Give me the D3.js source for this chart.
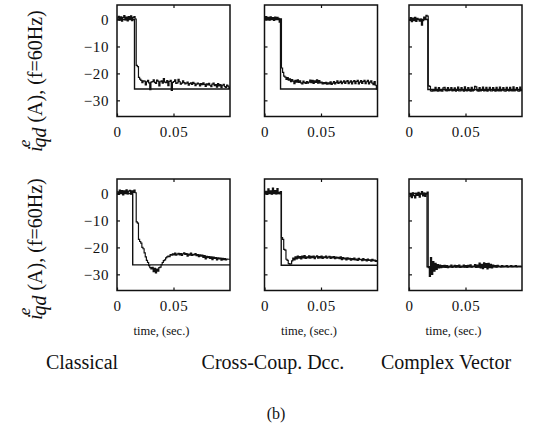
<!DOCTYPE html>
<html>
<head>
<meta charset="utf-8">
<script src="https://cdn.jsdelivr.net/npm/d3@7"></script>
<style>
  html, body { margin: 0; padding: 0; background: #fff; }
  svg { display: block; }
  svg text { font-family: "Liberation Serif", "Times New Roman", serif !important; }
</style>
</head>
<body>
<svg id="chart" width="553" height="427"></svg>
<script>
// Current step response of the three regulators (q-axis current, f = 60 Hz)
const columnTitles = ["Classical", "Cross-Coup. Dcc.", "Complex Vector"];
const yTickValues = [0, -10, -20, -30];
const xTickValues = [0, 0.05];
const yDomain = [-36, 5.4];
const xDomain = [0, 0.1];
const samplePeriod = 0.001; // s between logged samples

// Commanded current: steps from 0 A to the given level at the given time
const refStepTop = [0.0155, 0.0142, 0.0167];
const refLevelTop = [-25.8, -25.8, -26.0];
const refStepBottom = [0.0139, 0.0148, 0.016];
const refLevelBottom = [-26.5, -26.6, -27.2];

// Measured currents (A), one sample per samplePeriod
const classicalTop = [
  0.5, 1.2, -0.2, 1.0, -0.6, 0.8, 1.5, -0.1, 0.9, -0.5,
  1.1, 0.3, 1.4, -0.4, 0.8, 1.1, 0.2, -17.0, -17.5, -21.5,
  -22.1, -22.6, -23.4, -22.8, -22.9, -24.3, -23.1, -22.6, -23.5, -26.0,
  -23.2, -23.0, -22.4, -23.3, -23.7, -22.5, -22.9, -24.6, -23.1, -22.8,
  -23.6, -21.9, -23.2, -23.4, -22.7, -24.5, -23.0, -22.6, -26.3, -23.3,
  -23.0, -22.4, -23.7, -23.5, -22.2, -23.1, -24.0, -23.6, -22.8, -23.4,
  -23.9, -23.6, -23.2, -24.4, -23.8, -23.5, -24.1, -23.3, -23.7, -24.5,
  -24.0, -23.6, -23.9, -24.6, -23.8, -24.2, -23.5, -24.1, -24.8, -23.9,
  -24.3, -23.7, -24.4, -24.9, -24.0, -23.6, -24.5, -24.2, -25.1, -23.8,
  -24.6, -24.2, -25.3, -24.4, -24.1, -24.9, -25.2, -24.3, -24.7, -25.6,
  -25.0
];
const crossTop = [
  0.4, 1.1, 0.0, 0.8, -0.2, 1.0, 0.2, 0.7, -0.3, 0.9,
  0.1, 0.8, 0.4, -1.0, 0.3, -18.0, -19.6, -21.0, -21.4, -22.2,
  -21.6, -22.5, -22.0, -23.1, -22.3, -22.9, -23.8, -22.6, -23.2, -22.4,
  -23.3, -22.8, -23.5, -23.9, -22.9, -23.4, -23.7, -23.0, -23.6, -23.2,
  -22.5, -23.4, -22.6, -23.7, -22.8, -23.3, -22.4, -23.6, -22.7, -23.5,
  -23.2, -23.9, -23.4, -23.8, -23.3, -24.0, -23.5, -23.9, -23.1, -24.1,
  -23.6, -23.0, -23.9, -23.4, -22.8, -23.7, -23.3, -22.9, -23.8, -23.2,
  -22.8, -23.7, -23.1, -22.7, -23.8, -23.2, -22.8, -23.9, -23.1, -22.7,
  -23.8, -23.0, -22.6, -23.9, -23.2, -22.7, -23.7, -23.0, -22.6, -23.8,
  -23.1, -22.6, -23.9, -23.2, -22.8, -23.6, -24.2, -23.0, -24.4, -25.8,
  -25.8
];
const complexTop = [
  -0.3, 0.7, -0.8, 0.5, -0.4, 0.8, -0.7, 0.4, 0.1, -0.6,
  0.2, -2.1, -0.4, 0.9, 0.2, 1.6, 1.3, -24.6, -24.8, -26.5,
  -26.6, -26.3, -26.5, -25.2, -26.4, -26.6, -25.3, -26.5, -26.3, -26.6,
  -25.4, -25.2, -26.4, -26.5, -25.3, -26.4, -26.2, -25.3, -26.5, -26.3,
  -25.4, -26.6, -26.3, -25.1, -26.5, -26.5, -25.3, -26.2, -26.6, -25.0,
  -26.4, -26.5, -25.3, -26.3, -26.6, -25.2, -26.5, -26.2, -24.8, -25.0,
  -26.4, -26.6, -25.3, -26.5, -26.3, -25.1, -26.5, -26.4, -25.2, -26.6,
  -26.2, -25.2, -26.5, -26.5, -25.3, -26.3, -26.6, -25.2, -26.4, -26.5,
  -25.1, -26.5, -26.2, -25.3, -26.5, -26.6, -25.2, -26.3, -26.5, -25.2,
  -26.4, -26.5, -25.0, -26.5, -26.2, -25.3, -26.5, -26.6, -25.1, -26.4,
  -26.2
];
const classicalBottom = [
  0.6, -0.3, 1.3, 0.1, 1.1, -0.5, 1.0, 0.2, 1.4, -0.1,
  0.9, 1.2, -0.2, 1.0, 0.4, 1.3, 0.3, -10.5, -11.0, -17.0,
  -17.8, -18.4, -20.0, -20.5, -22.0, -23.5, -24.8, -25.6, -26.8, -27.5,
  -28.0, -27.4, -29.0, -27.8, -29.5, -28.1, -28.8, -27.5, -27.3, -26.4,
  -25.6, -24.9, -24.6, -23.9, -23.5, -23.2, -23.4, -22.7, -22.9, -22.4,
  -22.8, -22.1, -22.9, -22.5, -22.2, -22.8, -22.3, -23.0, -22.4, -22.0,
  -22.6, -22.3, -23.2, -22.5, -22.9, -22.1, -23.0, -22.6, -22.8, -22.3,
  -23.1, -22.7, -23.4, -22.8, -23.2, -22.9, -23.7, -23.0, -24.3, -23.3,
  -23.8, -23.4, -24.1, -23.5, -24.5, -23.6, -24.1, -23.8, -24.6, -23.9,
  -24.3, -24.0, -24.7, -24.1, -24.5, -24.2, -24.6, -24.3, -24.4, -24.4,
  -24.4
];
const crossBottom = [
  0.2, 0.8, -0.3, 1.7, 0.1, 1.0, -0.2, 2.0, 0.3, 1.1,
  -0.1, 1.8, 0.4, 0.0, 0.7, -16.4, -17.0, -20.7, -21.0, -24.4,
  -24.8, -26.0, -26.2, -26.1, -25.0, -24.0, -24.6, -23.5, -24.3, -23.2,
  -24.0, -23.4, -24.3, -23.2, -23.9, -23.0, -24.1, -23.5, -23.9, -23.1,
  -24.0, -23.3, -23.8, -23.2, -24.2, -23.5, -23.1, -24.0, -23.4, -23.9,
  -23.2, -24.1, -23.5, -23.8, -23.2, -24.0, -23.6, -23.3, -24.1, -23.5,
  -23.9, -23.4, -24.2, -23.6, -24.0, -23.7, -24.2, -23.5, -24.5, -23.8,
  -24.3, -24.0, -24.6, -23.9, -24.4, -24.1, -24.7, -24.2, -24.5, -24.0,
  -24.6, -24.3, -24.8, -24.1, -24.5, -24.4, -24.9, -24.2, -24.7, -24.5,
  -25.0, -24.3, -24.8, -24.6, -25.1, -24.4, -24.9, -24.7, -25.2, -24.9,
  -24.9
];
const complexBottom = [
  -1.0, 0.0, -1.5, 0.3, -0.8, -1.6, 0.1, -0.7, 0.4, -1.3,
  -0.2, 0.7, -0.9, 0.2, -1.1, -0.1, 0.5, -27.5, -30.8, -23.8,
  -30.0, -25.3, -28.8, -25.9, -28.2, -26.4, -27.6, -26.6, -27.5, -26.8,
  -27.3, -26.7, -27.4, -26.8, -27.5, -26.9, -27.2, -26.6, -27.4, -26.9,
  -26.7, -27.3, -26.8, -27.2, -26.6, -27.4, -26.9, -27.2, -26.6, -27.3,
  -26.8, -27.4, -26.7, -27.1, -26.5, -27.3, -26.9, -27.0, -26.4, -27.4,
  -26.6, -27.3, -25.8, -27.6, -26.3, -27.9, -25.7, -27.4, -26.0, -28.0,
  -25.9, -27.5, -26.3, -27.6, -26.6, -27.1, -26.8, -27.3, -26.7, -27.0,
  -26.9, -27.2, -26.8, -27.1, -26.9, -27.0, -26.8, -27.2, -26.9, -27.0,
  -26.8, -27.1, -26.9, -27.0, -26.8, -27.1, -26.9, -27.0, -26.9, -27.0,
  -26.9
];

const rows = [
  { series: [classicalTop, crossTop, complexTop], steps: refStepTop, levels: refLevelTop },
  { series: [classicalBottom, crossBottom, complexBottom], steps: refStepBottom, levels: refLevelBottom }
];

// Panel geometry
const panelLeft = [117, 264.5, 409];
const panelTop = [5, 179];
const panelW = 113, panelH = 111.5;
const ink = "#111";

const svg = d3.select("#chart");

rows.forEach((row, r) => {
  row.series.forEach((values, c) => {
    const x0 = panelLeft[c], y0 = panelTop[r];
    const x = d3.scaleLinear(xDomain, [x0, x0 + panelW]);
    const y = d3.scaleLinear(yDomain, [y0 + panelH, y0]);
    const g = svg.append("g");

    const clipId = `clip-${r}-${c}`;
    g.append("clipPath").attr("id", clipId)
      .append("rect").attr("x", x0).attr("y", y0).attr("width", panelW).attr("height", panelH);

    // commanded step
    const ref = [[0, 0], [row.steps[c], 0], [row.steps[c], row.levels[c]], [xDomain[1], row.levels[c]]];
    g.append("path")
      .attr("clip-path", `url(#${clipId})`)
      .attr("d", d3.line().x(d => x(d[0])).y(d => y(d[1]))(ref))
      .attr("fill", "none").attr("stroke", ink).attr("stroke-width", 1.4);

    // measured current
    g.append("path")
      .attr("clip-path", `url(#${clipId})`)
      .attr("d", d3.line().curve(d3.curveStepAfter)
        .x((d, i) => x(i * samplePeriod)).y(d => y(d))(values))
      .attr("fill", "none").attr("stroke", ink).attr("stroke-width", 1.2);

    // axes with inward ticks
    const left = g.append("g").attr("transform", `translate(${x0},0)`)
      .call(d3.axisLeft(y).tickValues(yTickValues).tickSizeInner(-3).tickSizeOuter(0)
        .tickPadding(8).tickFormat(c === 0 ? d3.format("d") : () => ""));
    const bottom = g.append("g").attr("transform", `translate(0,${y0 + panelH})`)
      .call(d3.axisBottom(x).tickValues(xTickValues).tickSizeInner(-3).tickSizeOuter(0)
        .tickPadding(10).tickFormat(d3.format("~g")));
    const top = g.append("g").attr("transform", `translate(0,${y0})`)
      .call(d3.axisTop(x).tickValues([0.05]).tickSizeInner(-3).tickSizeOuter(0).tickFormat(() => ""));
    [left, bottom, top].forEach(a => {
      a.attr("font-family", null).attr("font-size", null);
      a.select(".domain").remove();
      a.selectAll("line").attr("stroke", ink).attr("stroke-width", 1.2);
      a.selectAll("text").attr("fill", ink).attr("font-size", 15).attr("letter-spacing", 0.6);
    });

    // frame
    g.append("rect").attr("x", x0).attr("y", y0).attr("width", panelW).attr("height", panelH)
      .attr("fill", "none").attr("stroke", ink).attr("stroke-width", 1.5);

    if (r === 1) {
      g.append("text").attr("x", x0 + panelW / 2 - 12).attr("y", 335)
        .attr("text-anchor", "middle").attr("font-size", 12.5).attr("fill", ink)
        .text("time, (sec.)");
    }
  });
});

// column titles
const titleCenters = [82, 273, 446];
columnTitles.forEach((t, c) => {
  svg.append("text").attr("x", titleCenters[c]).attr("y", 369)
    .attr("text-anchor", "middle").attr("font-size", 20).attr("fill", ink).text(t);
});

// vertical axis label for each row
[81, 249].forEach(cy => {
  const t = svg.append("text")
    .attr("transform", `translate(42,${cy}) rotate(-90)`)
    .attr("text-anchor", "middle").attr("font-size", 20).attr("fill", ink);
  t.append("tspan").attr("font-style", "italic").text("i");
  t.append("tspan").attr("font-style", "italic").attr("font-size", 17).attr("dx", -1).attr("dy", -12).text("e");
  t.append("tspan").attr("font-style", "italic").attr("dx", -8).attr("dy", 16).text("qd");
  t.append("tspan").attr("dy", -4).text("\u00A0(A),\u00A0(f=60Hz)");
});

svg.append("text").attr("x", 276).attr("y", 419).attr("text-anchor", "middle")
  .attr("font-size", 16).attr("fill", ink).text("(b)");
</script>
</body>
</html>
